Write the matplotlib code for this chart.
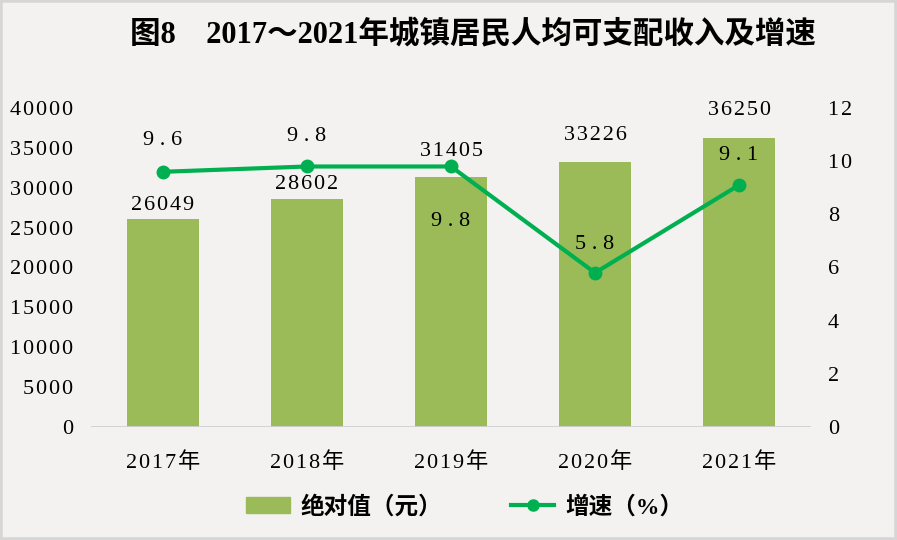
import matplotlib.pyplot as plt
from matplotlib.patches import Rectangle
from matplotlib.lines import Line2D
from matplotlib.patches import Patch

years = ['2017年', '2018年', '2019年', '2020年', '2021年']
income = [26049, 28602, 31405, 33226, 36250]
growth = [9.6, 9.8, 9.8, 5.8, 9.1]

title = '图8　2017～2021年城镇居民人均可支配收入及增速'

bar_color = '#9BBB59'
line_color = '#00B050'
bg = '#F3F2F1'
fam = ['Liberation Serif', 'Noto Sans CJK SC']

# label offsets in pixels (manual placement like the original)
bar_off = [14, 14, 25, 27, 27]
line_off = [31, 30, -55, 28, 30]


def spaced(s):
    # the original uses letter spaced digits
    return '\u200a'.join(s)


plt.rcParams['font.family'] = fam

fig = plt.figure(figsize=(8.97, 5.4), dpi=100, facecolor=bg)
ax = fig.add_axes([91 / 897, 113 / 540, 720 / 897, 319 / 540])
ax.set_facecolor('none')
x = list(range(len(years)))
ax.bar(x, income, width=0.5, color=bar_color, zorder=2)
ax.set_ylim(0, 40000)
ax.set_xlim(-0.5, len(years) - 0.5)
yt = list(range(0, 40001, 5000))
ax.set_yticks(yt)
ax.set_yticklabels([spaced(str(t)) for t in yt])
ax.set_xticks(x)
ax.set_xticklabels([spaced(y) for y in years])
for s in ax.spines.values():
    s.set_visible(False)
ax.axhline(0, color='#D0D0D0', lw=2, zorder=3)
ax.tick_params(axis='both', length=0, labelsize=16, colors='black')
ax.tick_params(axis='y', pad=13)
ax.tick_params(axis='x', pad=18)

for i, v in enumerate(income):
    ax.annotate(spaced(str(v)), (i, v), xytext=(0, bar_off[i] * 0.72), textcoords='offset points',
                ha='center', va='center', fontsize=16)

ax2 = ax.twinx()
ax2.set_ylim(0, 12)
yt2 = list(range(0, 13, 2))
ax2.set_yticks(yt2)
ax2.set_yticklabels([spaced(str(t)) for t in yt2])
for s in ax2.spines.values():
    s.set_visible(False)
ax2.tick_params(axis='y', length=0, labelsize=16, pad=12)
ax2.plot(x, growth, color=line_color, lw=3, marker='o', markersize=9, zorder=4)
for i, v in enumerate(growth):
    ax2.annotate(' '.join(f'{v:.1f}'), (i, v), xytext=(0, line_off[i] * 0.72), textcoords='offset points',
                 ha='center', va='center', fontsize=16)

fig.text(0.527, 1 - 35 / 540, title, ha='center', va='center', fontsize=22, fontweight='bold')

handles = [Patch(color=bar_color), Line2D([], [], color=line_color, lw=3, marker='o', markersize=8)]
leg = fig.legend(handles, ['绝对值（元）', '增速（%）'], loc='center', bbox_to_anchor=(0.518, 1 - 507 / 540),
                 ncol=2, frameon=False, prop={'family': fam, 'size': 17, 'weight': 'bold'},
                 handlelength=1.85, handleheight=0.65, columnspacing=2.9, handletextpad=0.45)

fig.patches.append(Rectangle((0, 0), 1, 1, transform=fig.transFigure, fill=False,
                             edgecolor='#D6D6D6', lw=4))

fig.savefig('out.png', dpi=100, facecolor=bg)
